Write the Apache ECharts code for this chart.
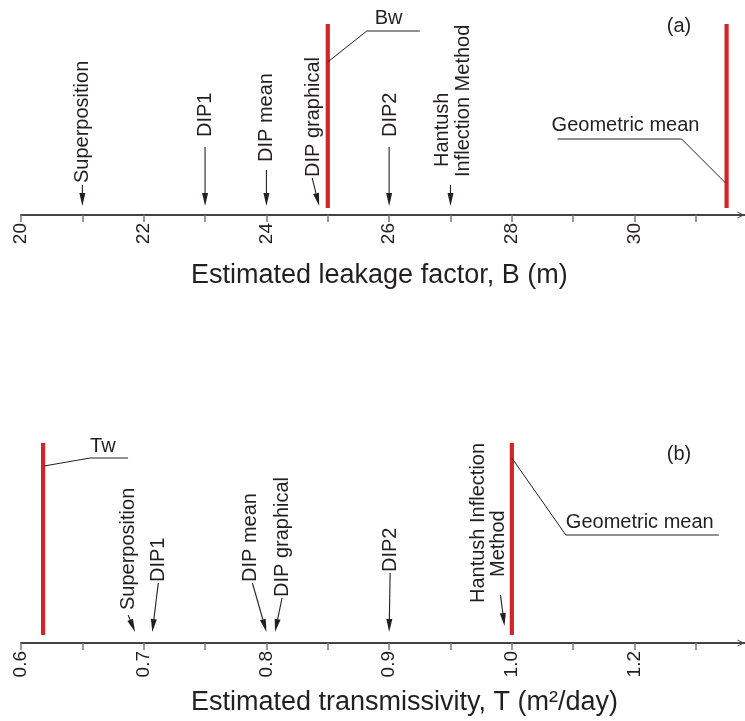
<!DOCTYPE html>
<html>
<head>
<meta charset="utf-8">
<script src="https://cdn.jsdelivr.net/npm/echarts@6/dist/echarts.min.js"></script>
<style>
  html, body { margin: 0; padding: 0; background: #fff; }
  #chart { width: 745px; height: 721px; }
</style>
</head>
<body>
<div id="chart"></div>
<script>
// ---- (a) leakage factor B (m) ----
const leakageMethods = ['Superposition', 'DIP1', 'DIP mean', 'DIP graphical', 'DIP2', 'Hantush\nInflection Method'];
const leakageValues = [21, 23, 24, 24.86, 26, 27];
const leakageRefNames = ['Bw', 'Geometric mean'];
const leakageRefValues = [25, 31.5];
const leakageTicks = [20, 21, 22, 23, 24, 25, 26, 27, 28, 29, 30, 31];
const leakageTickLabels = [20, 22, 24, 26, 28, 30];

// ---- (b) transmissivity T (m²/day) ----
const transMethods = ['Superposition', 'DIP1', 'DIP mean', 'DIP graphical', 'DIP2', 'Hantush Inflection\nMethod'];
const transValues = [0.693, 0.707, 0.8, 0.807, 0.9, 0.994];
const transRefNames = ['Tw', 'Geometric mean'];
const transRefValues = [0.618, 1.0];
const transTicks = [0.6, 0.65, 0.7, 0.75, 0.8, 0.85, 0.9, 0.95, 1.0, 1.05, 1.1, 1.15];
const transTickValues = [0.6, 0.7, 0.8, 0.9, 1.0, 1.1];
const transTickLabels = ['0.6', '0.7', '0.8', '0.9', '1.0', '1.2'];

const FONT_FAMILY = '"Liberation Sans", Arial, Helvetica, sans-serif';
const INK = '#231f20';
const RED = '#d3232b';

// Label placement in pixels, relative to each value's point on the axis line.
const leakageLayout = [
  { tipGap: 9, stem: [0, -30], text: [[0, -32]] },
  { tipGap: 9, stem: [0, -68], text: [[0, -78]] },
  { tipGap: 9, stem: [0, -45], text: [[0, -53]] },
  { tipGap: 9, stem: [-7, -37], text: [[-6, -38]] },
  { tipGap: 9, stem: [0, -68], text: [[1, -78]] },
  { tipGap: 9, stem: [0, -30], text: [[-8, -48], [13, -38]] }
];
const transLayout = [
  { tipGap: 11, stem: [-7, -28], text: [[-7, -33]] },
  { tipGap: 11, stem: [6, -60], text: [[6, -61]] },
  { tipGap: 11, stem: [-14, -60], text: [[-16, -61]] },
  { tipGap: 11, stem: [7, -45], text: [[7, -46]] },
  { tipGap: 11, stem: [1, -70], text: [[1, -71]] },
  { tipGap: 17, stem: [-4, -48], text: [[-26, -40], [-6, -66]] }
];
const leakageRefLayout = {
  gap: 7, top: 191,
  items: [
    { leader: [[0, -153], [39, -184], [92, -184]], text: [47, -197] },
    { leader: [[-169, -76], [-45, -76], [-1, -32]], text: [-175, -90] }
  ]
};
const transRefLayout = {
  gap: 8, top: 200,
  items: [
    { leader: [[1, -177], [47, -185], [85, -185]], text: [47, -197] },
    { leader: [[0, -185], [54, -108], [207, -108]], text: [54, -121] }
  ]
};

function arrowHead(x0, y0, x1, y1, len, half) {
  const dx = x1 - x0, dy = y1 - y0;
  const d = Math.sqrt(dx * dx + dy * dy) || 1;
  const ux = dx / d, uy = dy / d;
  const bx = x1 - ux * len, by = y1 - uy * len;
  return {
    base: [bx, by],
    points: [[x1, y1], [bx - uy * half, by + ux * half], [bx + uy * half, by - ux * half]]
  };
}

function methodRenderer(names, layout) {
  return function (params, api) {
    const i = params.dataIndex;
    const L = layout[i];
    const p = api.coord([api.value(0), 0]);
    const ax = p[0], ay = p[1];
    const tip = [ax, ay - L.tipGap];
    const start = [ax + L.stem[0], ay + L.stem[1]];
    const head = arrowHead(start[0], start[1], tip[0], tip[1], 13, 3);
    const children = [
      { type: 'line', shape: { x1: start[0], y1: start[1], x2: head.base[0], y2: head.base[1] },
        style: { stroke: INK, lineWidth: 1.1 } },
      { type: 'polygon', shape: { points: head.points }, style: { fill: INK } }
    ];
    names[i].split('\n').forEach(function (line, k) {
      children.push({
        type: 'text', x: ax + L.text[k][0], y: ay + L.text[k][1], rotation: Math.PI / 2,
        style: { text: line, fill: INK, font: '20px ' + FONT_FAMILY, align: 'left', verticalAlign: 'middle' }
      });
    });
    return { type: 'group', children: children };
  };
}

function refRenderer(names, layout) {
  return function (params, api) {
    const i = params.dataIndex;
    const L = layout.items[i];
    const p = api.coord([api.value(0), 0]);
    const ax = p[0], ay = p[1];
    return {
      type: 'group',
      children: [
        { type: 'line', shape: { x1: ax, y1: ay - layout.gap, x2: ax, y2: ay - layout.top },
          style: { stroke: RED, lineWidth: 4.2 } },
        { type: 'polyline', shape: { points: L.leader.map(function (q) { return [ax + q[0], ay + q[1]]; }) },
          style: { stroke: INK, lineWidth: 1, fill: null } },
        { type: 'text', x: ax + L.text[0], y: ay + L.text[1],
          style: { text: names[i], fill: INK, font: '20px ' + FONT_FAMILY, align: 'left', verticalAlign: 'middle' } }
      ]
    };
  };
}

function baseXAxis(gridIndex, min, max, ticks, labelValues, formatter) {
  return {
    type: 'value', gridIndex: gridIndex, min: min, max: max, position: 'bottom',
    axisLine: {
      show: true, onZero: false,
      lineStyle: { color: '#444', width: 2 },
      symbol: ['none', 'path://M5 0 L10 10 L8.6 10 L5 2.8 L1.4 10 L0 10 Z'],
      symbolSize: [7, 8], symbolOffset: [0, -4]
    },
    axisTick: { show: true, inside: false, length: 7, customValues: ticks,
      lineStyle: { color: '#777', width: 1.5 } },
    axisLabel: { show: true, rotate: 90, margin: 8, customValues: labelValues,
      color: INK, fontSize: 19, fontFamily: FONT_FAMILY, formatter: formatter },
    splitLine: { show: false }
  };
}

const chart = echarts.init(document.getElementById('chart'), null, { renderer: 'canvas' });

chart.setOption({
  backgroundColor: '#fff',
  animation: false,
  grid: [
    { left: 21, right: 0, top: 10, bottom: 506 },
    { left: 21, right: 0, top: 430, bottom: 78 }
  ],
  xAxis: [
    baseXAxis(0, 20, 31.8, leakageTicks, leakageTickLabels, function (v) { return String(v); }),
    baseXAxis(1, 0.6, 1.19, transTicks, transTickValues, function (v) {
      const k = transTickValues.findIndex(function (t) { return Math.abs(t - v) < 1e-9; });
      return k >= 0 ? transTickLabels[k] : '';
    })
  ],
  yAxis: [
    { type: 'value', gridIndex: 0, min: 0, max: 1, show: false },
    { type: 'value', gridIndex: 1, min: 0, max: 1, show: false }
  ],
  graphic: [
    { type: 'text', left: 191, top: 262,
      style: { text: 'Estimated leakage factor, B (m)', fill: INK, font: '27px ' + FONT_FAMILY } },
    { type: 'text', left: 191, top: 689,
      style: { text: 'Estimated transmissivity, T (m²/day)', fill: INK, font: '27px ' + FONT_FAMILY } },
    { type: 'text', x: 679, y: 26,
      style: { text: '(a)', fill: INK, font: '20px ' + FONT_FAMILY, align: 'center', verticalAlign: 'middle' } },
    { type: 'text', x: 679, y: 454,
      style: { text: '(b)', fill: INK, font: '20px ' + FONT_FAMILY, align: 'center', verticalAlign: 'middle' } }
  ],
  series: [
    { type: 'custom', name: 'B references', xAxisIndex: 0, yAxisIndex: 0, clip: false, silent: true,
      data: leakageRefValues.map(function (v) { return [v, 0]; }),
      renderItem: refRenderer(leakageRefNames, leakageRefLayout) },
    { type: 'custom', name: 'B methods', xAxisIndex: 0, yAxisIndex: 0, clip: false, silent: true,
      data: leakageValues.map(function (v) { return [v, 0]; }),
      renderItem: methodRenderer(leakageMethods, leakageLayout) },
    { type: 'custom', name: 'T references', xAxisIndex: 1, yAxisIndex: 1, clip: false, silent: true,
      data: transRefValues.map(function (v) { return [v, 0]; }),
      renderItem: refRenderer(transRefNames, transRefLayout) },
    { type: 'custom', name: 'T methods', xAxisIndex: 1, yAxisIndex: 1, clip: false, silent: true,
      data: transValues.map(function (v) { return [v, 0]; }),
      renderItem: methodRenderer(transMethods, transLayout) }
  ]
});
</script>
</body>
</html>
